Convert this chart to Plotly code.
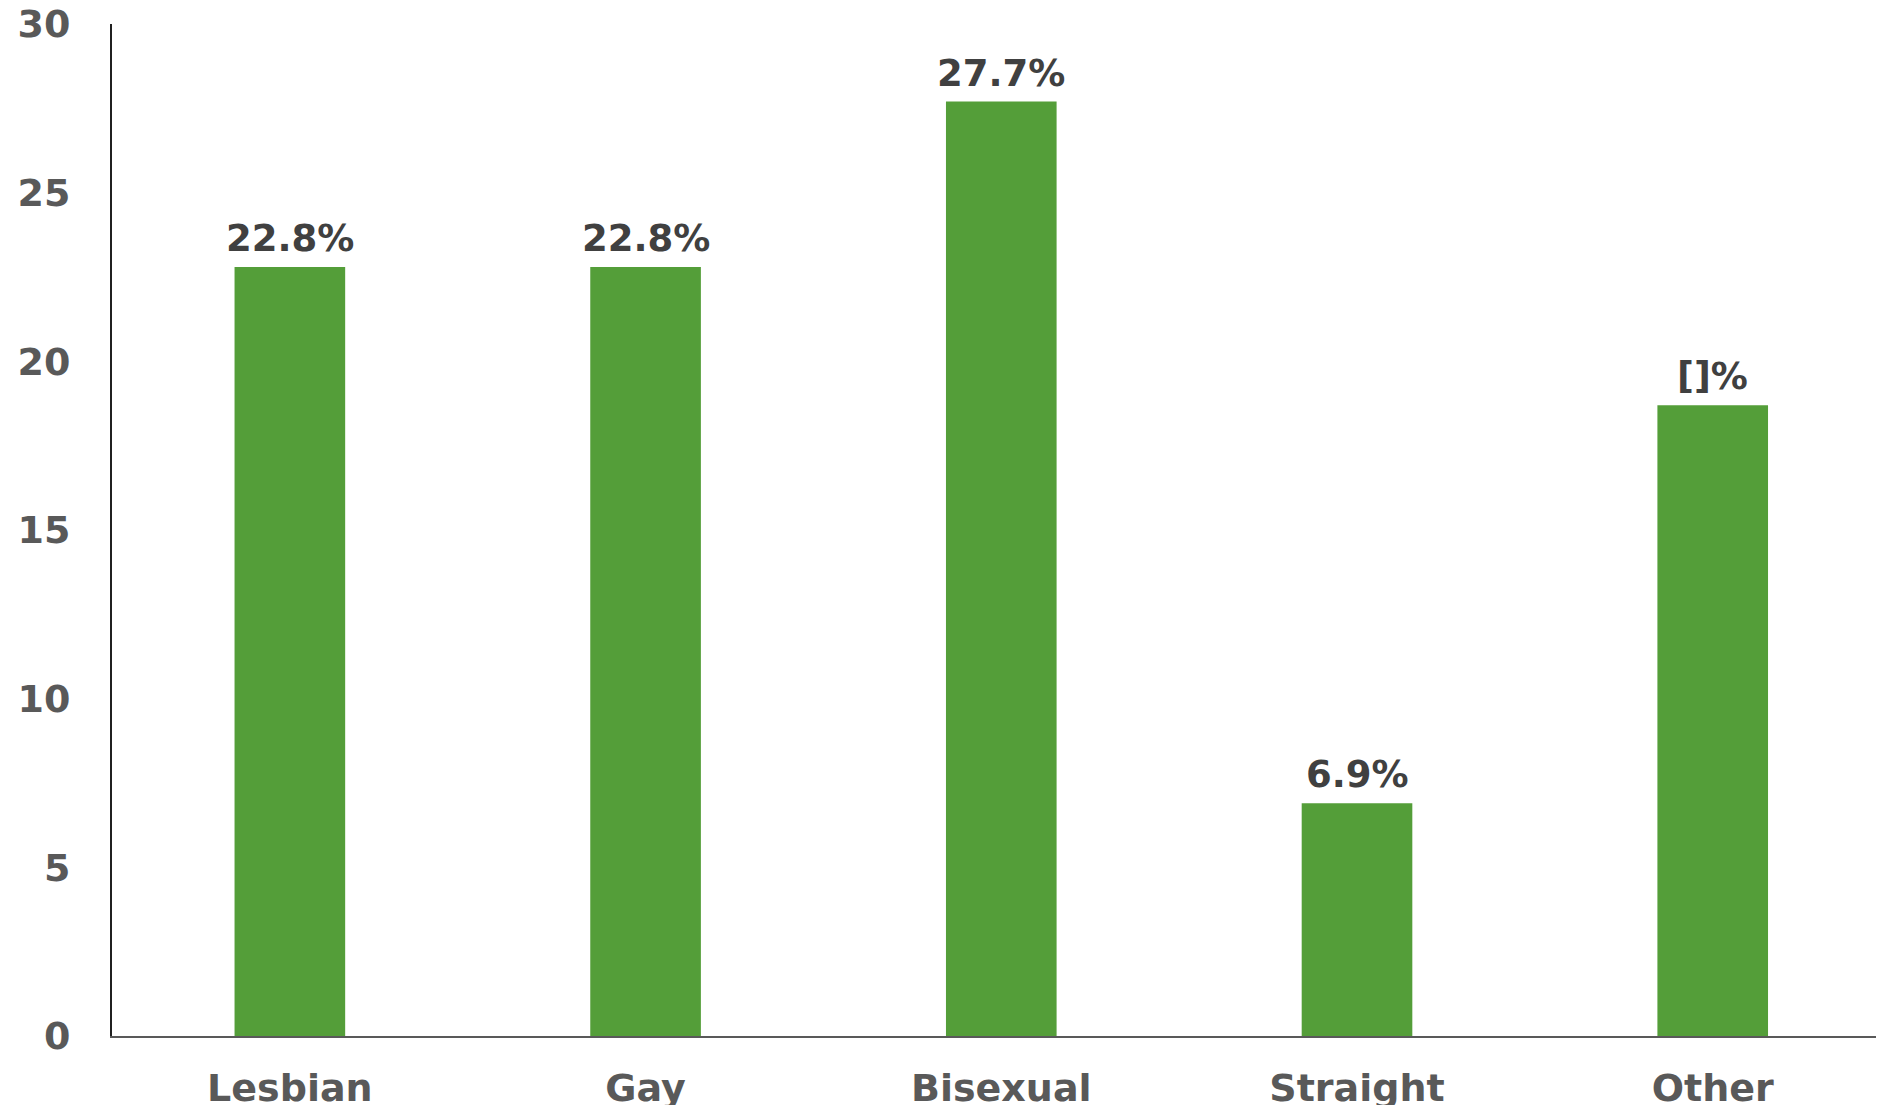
import plotly.graph_objects as go

categories = ["Lesbian", "Gay", "Bisexual", "Straight", "Other"]
values = [22.8, 22.8, 27.7, 6.9, 18.7]
value_labels = ["22.8%", "22.8%", "27.7%", "6.9%", "[]%"]
y_ticks = [0, 5, 10, 15, 20, 25, 30]

FONT = "DejaVu Sans"

fig = go.Figure()
fig.add_trace(go.Bar(
    x=categories, y=values,
    marker=dict(color="#549E39", line=dict(width=0)),
    width=0.311,
    hoverinfo="skip",
))

for c, v, t in zip(categories, values, value_labels):
    fig.add_annotation(
        x=c, y=v, text=f"<b>{t}</b>", showarrow=False,
        yanchor="bottom", yshift=5,
        font=dict(family=FONT, size=37, color="#404040"),
    )

fig.update_layout(
    width=1884, height=1105,
    paper_bgcolor="white", plot_bgcolor="white",
    margin=dict(l=104, r=0, t=16, b=77, autoexpand=False),
    showlegend=False,
    bargap=0.69,
)
fig.update_xaxes(
    range=[-0.5, 4.504], automargin=False,
    showline=True, linecolor="#595959", linewidth=1.5,
    showgrid=False, ticks="",
    tickfont=dict(family=FONT, size=38, color="#595959", weight="bold"),
    ticklabelstandoff=18, ticklabeloverflow="allow",
)
fig.update_yaxes(
    range=[0, 30], tickvals=y_ticks, automargin=False,
    showline=True, linecolor="#202020", linewidth=2,
    showgrid=False, zeroline=False, ticks="",
    tickfont=dict(family=FONT, size=38, color="#595959", weight="bold"),
    ticklabelstandoff=32, ticklabeloverflow="allow",
)

fig.write_html("out.html")
